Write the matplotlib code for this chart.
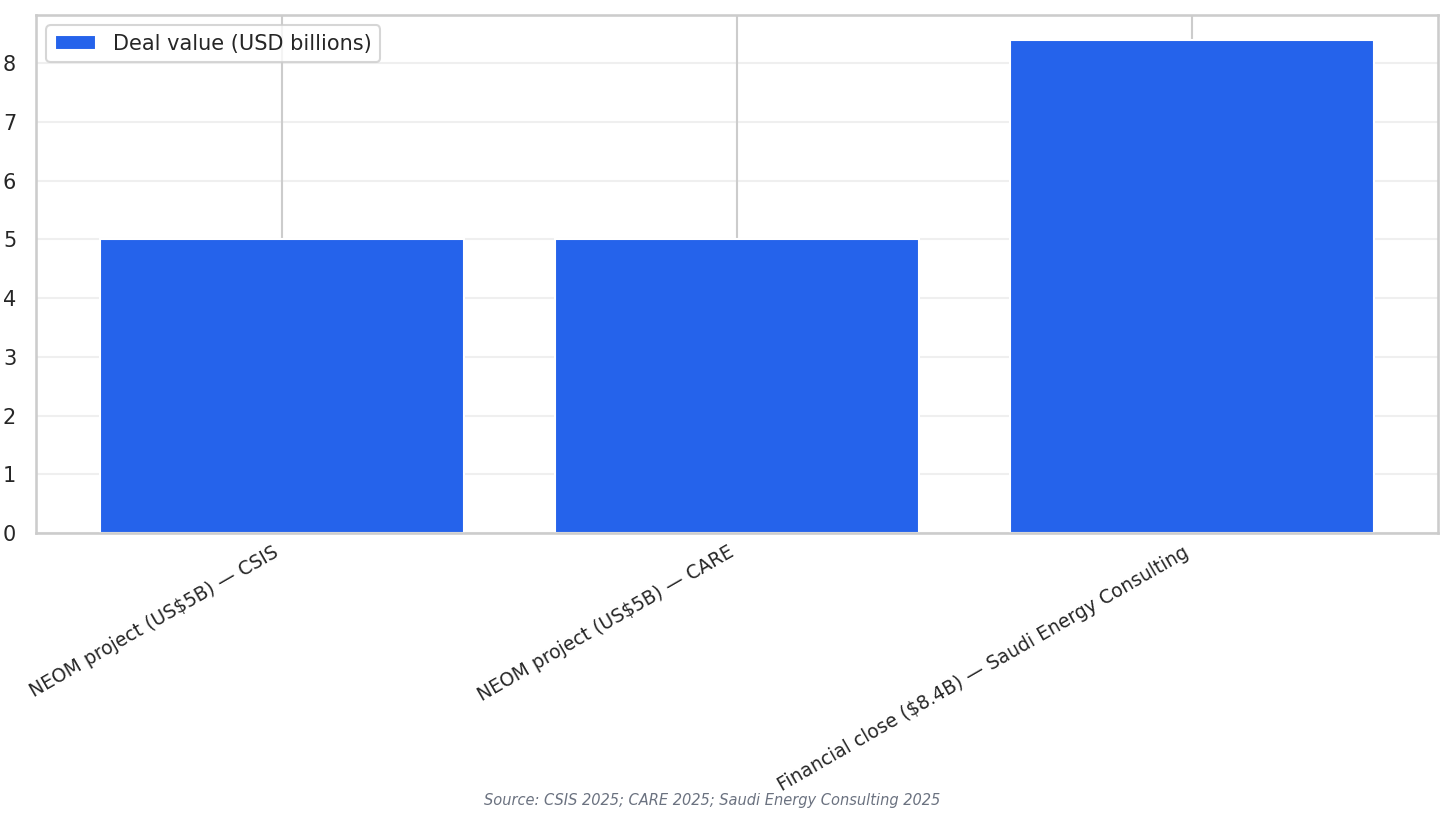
import matplotlib
matplotlib.use("Agg")
from matplotlib import pyplot as plt
import seaborn as sns

# 数据
categories = [
    "NEOM project (US$5B) — CSIS",
    "NEOM project (US$5B) — CARE",
    "Financial close ($8.4B) — Saudi Energy Consulting",
]
deal_values = [5.0, 5.0, 8.4]
series_label = "Deal value (USD billions)"
source_note = "Source: CSIS 2025; CARE 2025; Saudi Energy Consulting 2025"

sns.set_theme(style="whitegrid")
plt.rcParams['font.family'] = ['DejaVu Sans']

fig, ax = plt.subplots(figsize=(1453 / 150, 824 / 150), dpi=150)
fig.subplots_adjust(left=0.0248, right=0.9897, top=0.9818, bottom=0.3532)

ax.bar(range(len(categories)), deal_values, width=0.8, color="#2563EB", label=series_label)

# 水平网格淡一些
ax.yaxis.grid(True, alpha=0.3)

ax.set_xticks(range(len(categories)))
ax.set_xticklabels(categories, rotation=30, ha="right", fontsize=9)
ax.tick_params(axis="x", length=1.2)
ax.tick_params(axis="y", labelsize=10)
ax.legend(loc="upper left", fontsize=10)

fig.text(0.49, 0.028, source_note, ha="center", va="center",
         fontsize=7, style="italic", color="#6b7280")

plt.savefig("out.png", dpi=150)
